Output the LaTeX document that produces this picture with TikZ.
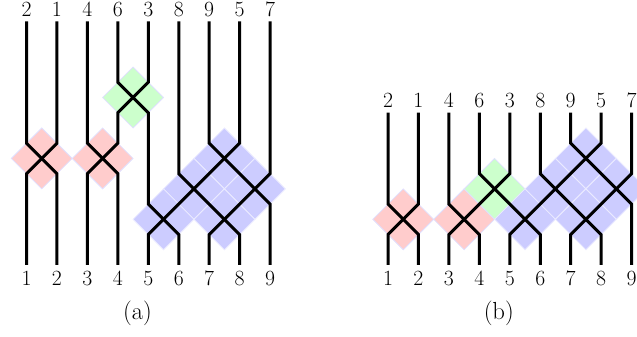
\documentclass[tikz,border=0pt]{standalone}
\usepackage{tikz}
\tikzset{
  strand/.style={line width=3pt, black, line join=miter},
  redbox/.style={fill=red!20, draw=blue!12, line width=0.8pt},
  greenbox/.style={fill=green!20, draw=blue!12, line width=0.8pt},
  bluebox/.style={fill=blue!20, draw=blue!8, line width=0.8pt},
  lab/.style={font=\fontsize{21.7}{26}\selectfont, anchor=base, inner sep=0pt},
  captext/.style={font=\fontsize{24.7}{30}\selectfont, anchor=base, inner sep=0pt},
}
\newcommand{\dia}[3]{\path[#1] ({#2-1},#3) -- (#2,{#3+1}) -- ({#2+1},#3) -- (#2,{#3-1}) -- cycle;}
\begin{document}
\begin{tikzpicture}
\useasboundingbox (0,0) rectangle (637pt,337pt);
% ---------- panel (a)
\begin{scope}[shift={(-3.95pt,72pt)}, x=30.45pt, y=30.45pt]
  \dia{redbox}{1.5}{3.5}
  \dia{redbox}{3.5}{3.5}
  \dia{greenbox}{4.5}{5.5}
  \dia{bluebox}{7.5}{3.5}
  \dia{bluebox}{6.5}{2.5}
  \dia{bluebox}{8.5}{2.5}
  \dia{bluebox}{5.5}{1.5}
  \dia{bluebox}{7.5}{1.5}
  \foreach \c in {1,...,9}{
    \coordinate (aT\c) at (\c,8);
    \coordinate (aB\c) at (\c,0);
  }
  \draw[strand] (aT2) -- (2,4) -- (1,3) -- (aB1);
  \draw[strand] (aT1) -- (1,4) -- (2,3) -- (aB2);
  \draw[strand] (aT3) -- (3,4) -- (4,3) -- (aB4);
  \draw[strand] (aT4) -- (4,6) -- (5,5) -- (5,2) -- (6,1) -- (aB6);
  \draw[strand] (aT5) -- (5,6) -- (4,5) -- (4,4) -- (3,3) -- (aB3);
  \draw[strand] (aT6) -- (6,3) -- (8,1) -- (aB8);
  \draw[strand] (aT7) -- (7,4) -- (9,2) -- (aB9);
  \draw[strand] (aT8) -- (8,4) -- (5,1) -- (aB5);
  \draw[strand] (aT9) -- (9,3) -- (7,1) -- (aB7);
  \foreach \l [count=\c] in {2,1,4,6,3,8,9,5,7}
    \node[lab] (aLT\c) at (\c,8.15) {\l};
  \foreach \c in {1,...,9}
    \node[lab] (aLB\c) at (\c,-0.673) {\c};
\end{scope}
% ---------- panel (b)
\begin{scope}[shift={(357.55pt,72pt)}, x=30.45pt, y=30.45pt]
  \dia{redbox}{1.5}{1.5}
  \dia{redbox}{3.5}{1.5}
  \dia{greenbox}{4.5}{2.5}
  \dia{bluebox}{7.5}{3.5}
  \dia{bluebox}{6.5}{2.5}
  \dia{bluebox}{8.5}{2.5}
  \dia{bluebox}{5.5}{1.5}
  \dia{bluebox}{7.5}{1.5}
  \foreach \c in {1,...,9}{
    \coordinate (bT\c) at (\c,5);
    \coordinate (bB\c) at (\c,0);
  }
  \draw[strand] (bT1) -- (1,2) -- (2,1) -- (bB2);
  \draw[strand] (bT2) -- (2,2) -- (1,1) -- (bB1);
  \draw[strand] (bT3) -- (3,2) -- (4,1) -- (bB4);
  \draw[strand] (bT4) -- (4,3) -- (6,1) -- (bB6);
  \draw[strand] (bT5) -- (5,3) -- (3,1) -- (bB3);
  \draw[strand] (bT6) -- (6,3) -- (8,1) -- (bB8);
  \draw[strand] (bT7) -- (7,4) -- (9,2) -- (bB9);
  \draw[strand] (bT8) -- (8,4) -- (5,1) -- (bB5);
  \draw[strand] (bT9) -- (9,3) -- (7,1) -- (bB7);
  \foreach \l [count=\c] in {2,1,4,6,3,8,9,5,7}
    \node[lab] (bLT\c) at (\c,5.17) {\l};
  \foreach \c in {1,...,9}
    \node[lab] (bLB\c) at (\c,-0.673) {\c};
\end{scope}
\node[captext] (capa) at (137.5pt,17pt) {(a)};
\node[captext] (capb) at (498.8pt,17pt) {(b)};
\end{tikzpicture}
\end{document}
